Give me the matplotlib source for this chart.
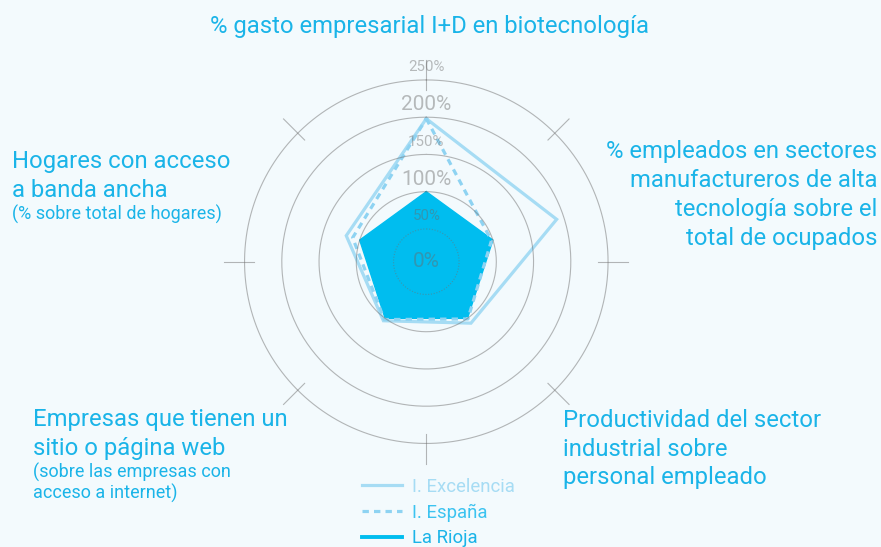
import numpy as np
import matplotlib
matplotlib.use("Agg")
import matplotlib.pyplot as plt
from matplotlib.lines import Line2D

plt.rcParams['font.family'] = ['Roboto', 'DejaVu Sans']

# ---- data ----
categories = [
    "% gasto empresarial I+D en biotecnología",
    "% empleados en sectores manufactureros de alta tecnología sobre el total de ocupados",
    "Productividad del sector industrial sobre personal empleado",
    "Empresas que tienen un sitio o página web",
    "Hogares con acceso a banda ancha",
]
excelencia = [198, 190, 108, 104, 119]
espana = [198, 98, 101, 102, 110]
rioja = [100, 100, 100, 100, 100]
levels = [50, 100, 150, 200, 250]
level_labels = ["50%", "100%", "150%", "200%", "250%"]
series_names = ["I. Excelencia", "I. España", "La Rioja"]

# ---- styles ----
BG = "#F3FAFD"
TXT = "#1AB4E8"
C_EXC = "#A6DCF4"
C_ESP = "#8ED3F2"
C_RIO = "#00BDEF"

W, H = 881, 547
fig = plt.figure(figsize=(W / 100, H / 100), dpi=100, facecolor=BG)

cx, cy, R = 426.3, 261.7, 204.1
ax = fig.add_axes([(cx - R) / W, (H - cy - R) / H, 2 * R / W, 2 * R / H],
                  projection="polar")
ax.set_facecolor("none")
ax.set_theta_offset(np.pi / 2)
ax.set_theta_direction(-1)
RMIN, RMAX = 6, 280
ax.set_ylim(RMIN, RMAX)
ax.grid(False)
ax.set_xticks([])
ax.set_yticks([])
ax.spines["polar"].set_visible(False)

n = len(categories)
ang = np.linspace(0, 2 * np.pi, n, endpoint=False)
angc = np.concatenate([ang, ang[:1]])

def closed(v):
    return np.concatenate([v, v[:1]])

# La Rioja filled
ax.fill(angc, closed(rioja), color=C_RIO, zorder=2, lw=0)
ax.plot(angc, closed(rioja), color=C_RIO, lw=1.0, zorder=2)
# Excelencia & España
ax.plot(angc, closed(excelencia), color=C_EXC, lw=2.3, zorder=3,
        solid_joinstyle="miter")
ax.plot(angc, closed(espana), color=C_ESP, lw=2.3, zorder=3,
        linestyle=(0, (2.0, 1.6)))

# grid circles
t = np.linspace(0, 2 * np.pi, 400)
for lv in levels:
    ls = (0, (1, 1.5)) if lv == 50 else "-"
    ax.plot(t, np.full_like(t, lv), color="#707070", alpha=0.5, lw=0.8,
            ls=ls, zorder=4, clip_on=False)

# decorative ticks every 45 deg
for a in np.deg2rad(np.arange(0, 360, 45)):
    ax.plot([a, a], [237, 277], color="#707070", alpha=0.5, lw=0.8,
            zorder=4, clip_on=False)

# level labels
big = {100, 200}
for lv, lab in zip(levels, level_labels):
    ax.text(0, lv + 17, lab, ha="center", va="center",
            fontsize=15 if lv in big else 10.8,
            color="#6A6A6A", alpha=0.45, zorder=5)
ax.text(0.5, 0.5, "0%", transform=ax.transAxes, ha="center", va="center",
        fontsize=15, color="#6A6A6A", alpha=0.45, zorder=5)

# ---- category labels ----
def ftext(x, y, s, **kw):
    fig.text(x / W, 1 - y / H, s, color=TXT, **kw)

BIGF = 17.2
SMALLF = 13
ftext(430, 26, categories[0], ha="center", va="center", fontsize=BIGF)
ftext(877, 195, "% empleados en sectores\nmanufactureros de alta\ntecnología sobre el\ntotal de ocupados",
      ha="right", va="center", multialignment="right", fontsize=BIGF, linespacing=1.32)
ftext(563, 449, "Productividad del sector\nindustrial sobre\npersonal empleado",
      ha="left", va="center", fontsize=BIGF, linespacing=1.32)
ftext(33, 434, "Empresas que tienen un\nsitio o página web",
      ha="left", va="center", fontsize=BIGF, linespacing=1.3)
ftext(33, 483, "(sobre las empresas con\nacceso a internet)",
      ha="left", va="center", fontsize=SMALLF, linespacing=1.15)
ftext(12, 176, "Hogares con acceso\na banda ancha",
      ha="left", va="center", fontsize=BIGF, linespacing=1.3)
ftext(12, 214, "(% sobre total de hogares)",
      ha="left", va="center", fontsize=SMALLF)

# ---- legend ----
handles = [
    Line2D([], [], color=C_EXC, lw=2.3),
    Line2D([], [], color=C_ESP, lw=2.3, ls=(0, (2.0, 1.6))),
    Line2D([], [], color=C_RIO, lw=2.8),
]
leg = fig.legend(handles, series_names, loc="upper left",
                 bbox_to_anchor=(362 / W, 1 - 478 / H), frameon=False,
                 fontsize=13.4, handlelength=2.15, handletextpad=0.54,
                 labelspacing=0.4, borderaxespad=0, borderpad=0)
for txt, c in zip(leg.get_texts(), [C_EXC, "#3CC3F0", TXT]):
    txt.set_color(c)

fig.savefig("out.png", dpi=100, facecolor=BG)
